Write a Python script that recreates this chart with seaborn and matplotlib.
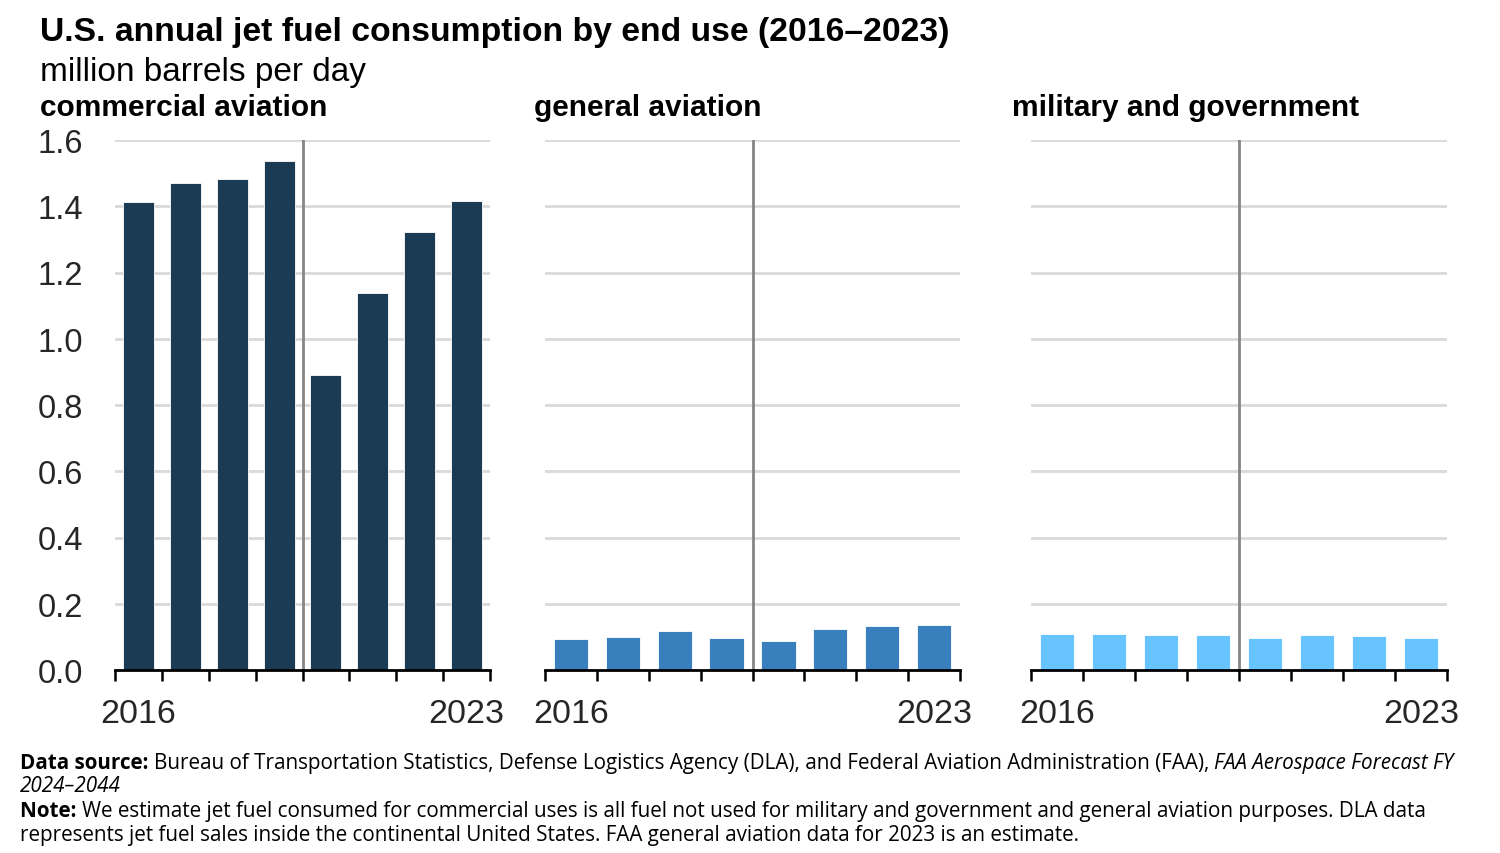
import matplotlib
matplotlib.use("Agg")
import matplotlib.pyplot as plt
import seaborn as sns
import pandas as pd

years = [2016, 2017, 2018, 2019, 2020, 2021, 2022, 2023]
commercial = [1.414, 1.470, 1.482, 1.538, 0.891, 1.137, 1.321, 1.417]
general = [0.094, 0.100, 0.119, 0.098, 0.087, 0.124, 0.134, 0.136]
military = [0.110, 0.110, 0.106, 0.106, 0.098, 0.106, 0.103, 0.098]
panel_titles = ["commercial aviation", "general aviation", "military and government"]
panel_colors = ["#1b3a54", "#3a7fbd", "#67c4ff"]
yticks = [0.0, 0.2, 0.4, 0.6, 0.8, 1.0, 1.2, 1.4, 1.6]

sns.set_theme(style="white")
plt.rcParams["font.family"] = ["Liberation Sans", "DejaVu Sans"]

W, H = 1500, 854
fig = plt.figure(figsize=(15, 8.54), dpi=100)

def fx(px):
    return px / W

def fy(py):
    return 1 - py / H

axes_px = [(115, 490), (545, 960), (1031, 1447)]
title_x = [40, 534, 1012]
series = [commercial, general, military]
y0, y1 = 671, 141

for i, ((xa, xb), vals) in enumerate(zip(axes_px, series)):
    ax = fig.add_axes([fx(xa), fy(y0), fx(xb - xa), (y0 - y1) / H])
    df = pd.DataFrame({"year": [str(y) for y in years], "value": vals})
    sns.barplot(data=df, x="year", y="value", color=panel_colors[i], ax=ax,
                width=0.66, saturation=1, edgecolor="white", linewidth=0.6, zorder=3)
    ax.set_xlim(-0.5, len(years) - 0.5)
    ax.set_ylim(0, 1.6)
    ax.set_yticks(yticks)
    for yv in yticks[1:]:
        ax.axhline(yv, color="#d9d9d9", lw=2, zorder=1)
    ax.axvline(3.5, color="#858585", lw=2, zorder=2)
    for s in ["top", "right", "left"]:
        ax.spines[s].set_visible(False)
    ax.spines["bottom"].set_color("black")
    ax.spines["bottom"].set_linewidth(2)
    ax.spines["bottom"].set_zorder(4)
    ax.set_xlabel("")
    ax.set_ylabel("")
    ax.set_xticks([k - 0.5 for k in range(len(years) + 1)])
    ax.set_xticklabels([""] * (len(years) + 1))
    ax.tick_params(axis="x", which="major", bottom=True, length=8, width=1.8,
                   color="black", direction="out")
    ax.set_xticks([0, len(years) - 1], minor=True)
    ax.set_xticklabels([str(years[0]), str(years[-1])], minor=True)
    ax.tick_params(axis="x", which="minor", bottom=True, length=0, pad=20,
                   labelsize=24.5)
    if i == 0:
        ax.set_yticklabels([f"{v:.1f}" for v in yticks])
        ax.tick_params(axis="y", length=0, pad=23, labelsize=23.5)
    else:
        ax.set_yticklabels([])
        ax.tick_params(axis="y", length=0)
    fig.text(fx(title_x[i]), fy(108), panel_titles[i], fontsize=21.5, fontweight="bold",
             ha="left", va="center", color="black")

fig.text(fx(40), fy(33), "U.S. annual jet fuel consumption by end use (2016\u20132023)",
         fontsize=24.3, fontweight="bold", ha="left", va="center", color="black")
fig.text(fx(40), fy(73), "million barrels per day", fontsize=24,
         ha="left", va="center", color="black")

renderer = fig.canvas.get_renderer()
foot_font = ["Open Sans", "DejaVu Sans"]
fs = 14.9
lines = [
    [("Data source: ", "bold", "normal"),
     ("Bureau of Transportation Statistics, Defense Logistics Agency (DLA), and Federal Aviation Administration (FAA), ", "normal", "normal"),
     ("FAA Aerospace Forecast FY", "normal", "italic")],
    [("2024\u20132044", "normal", "italic")],
    [("Note: ", "bold", "normal"),
     ("We estimate jet fuel consumed for commercial uses is all fuel not used for military and government and general aviation purposes. DLA data", "normal", "normal")],
    [("represents jet fuel sales inside the continental United States. FAA general aviation data for 2023 is an estimate.", "normal", "normal")],
]
line_y = [764, 787, 812, 836]
for parts, ly in zip(lines, line_y):
    x = 20
    for txt, wt, st in parts:
        t = fig.text(fx(x), fy(ly), txt, fontsize=fs, fontweight=wt, fontstyle=st,
                     family=foot_font, ha="left", va="center", color="black")
        bb = t.get_window_extent(renderer=renderer)
        x += bb.width

fig.savefig("out.png", dpi=100, facecolor="white")
